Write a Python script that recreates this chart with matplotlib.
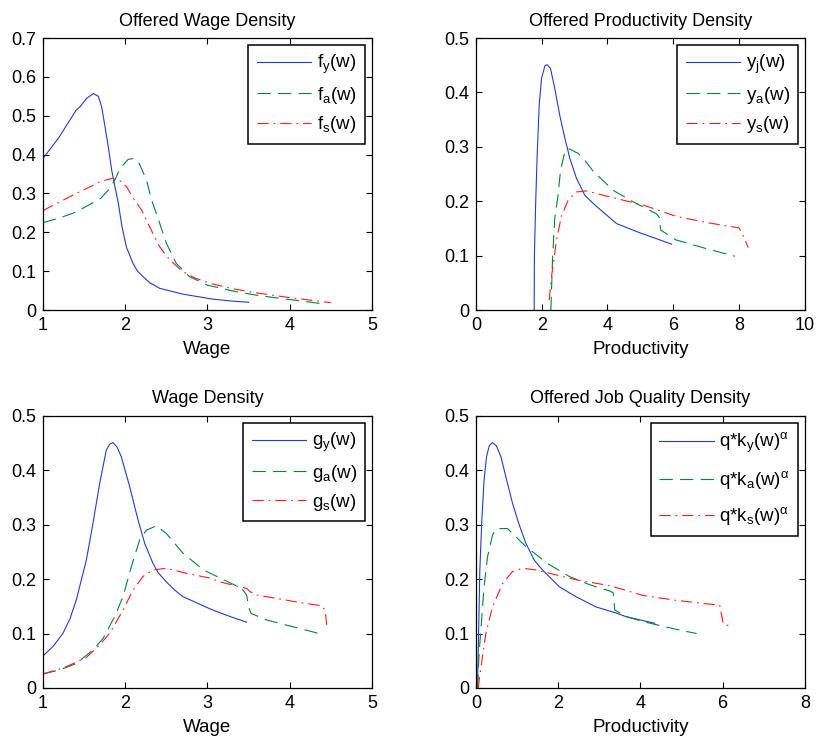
import matplotlib
matplotlib.use("Agg")
import matplotlib.pyplot as plt

plt.rcParams["font.family"] = "Liberation Sans"
plt.rcParams["mathtext.fontset"] = "custom"
plt.rcParams["mathtext.rm"] = "Liberation Sans"
plt.rcParams["mathtext.it"] = "Liberation Sans"
plt.rcParams["mathtext.bf"] = "Liberation Sans"
plt.rcParams["mathtext.sf"] = "Liberation Sans"

BLUE = "#1f3fc4"
GREEN = "#00853a"
RED = "#ff1a1a"

# ---- Offered Wage Density ----
fw_y_x = [1.0, 1.1, 1.2, 1.3, 1.405, 1.45, 1.531, 1.612, 1.673, 1.713, 1.754, 1.794,
          1.835, 1.875, 1.916, 1.96, 2.013, 2.094, 2.15, 2.216, 2.3, 2.418, 2.7, 3.067,
          3.3, 3.5]
fw_y = [0.39, 0.418, 0.446, 0.48, 0.515, 0.523, 0.545, 0.557, 0.55, 0.523, 0.472, 0.42,
        0.36, 0.317, 0.275, 0.215, 0.163, 0.12, 0.1, 0.086, 0.07, 0.056, 0.041, 0.028,
        0.023, 0.02]
fw_a_x = [1.0, 1.2, 1.4, 1.57, 1.7, 1.8, 1.875, 1.936, 2.037, 2.099, 2.16, 2.26, 2.32,
          2.378, 2.5, 2.62, 2.78, 3.0, 3.33, 3.6, 4.0, 4.37]
fw_a = [0.225, 0.237, 0.252, 0.272, 0.287, 0.31, 0.335, 0.364, 0.388, 0.39, 0.382, 0.334,
        0.283, 0.249, 0.172, 0.12, 0.086, 0.064, 0.048, 0.038, 0.027, 0.017]
fw_s_x = [1.0, 1.2, 1.45, 1.6, 1.693, 1.835, 1.93, 2.017, 2.1, 2.2, 2.297, 2.418, 2.54,
          2.7, 2.85, 3.067, 3.3, 3.6, 4.0, 4.5]
fw_s = [0.256, 0.278, 0.305, 0.32, 0.33, 0.339, 0.334, 0.317, 0.287, 0.257, 0.214, 0.163,
        0.129, 0.099, 0.082, 0.067, 0.055, 0.044, 0.032, 0.019]

# ---- Offered Productivity Density ----
py_j_x = [1.773, 1.78, 1.82, 1.864, 1.926, 1.997, 2.1, 2.17, 2.27, 2.4, 2.55, 2.705,
          2.857, 3.06, 3.313, 3.62, 4.276, 4.985, 5.5, 5.95]
py_j = [0.0, 0.1, 0.2, 0.285, 0.377, 0.426, 0.449, 0.451, 0.444, 0.407, 0.358, 0.316,
        0.279, 0.242, 0.211, 0.193, 0.159, 0.142, 0.131, 0.121]
py_a_x = [2.28, 2.33, 2.40, 2.5, 2.574, 2.705, 2.81, 3.11, 3.26, 3.57, 4.175, 4.78, 5.49,
          5.58, 5.62, 6.08, 7.0, 7.87]
py_a = [0.0, 0.092, 0.17, 0.211, 0.257, 0.291, 0.297, 0.288, 0.279, 0.255, 0.22, 0.199,
        0.177, 0.17, 0.147, 0.129, 0.113, 0.099]
py_s_x = [2.23, 2.3, 2.45, 2.6, 2.806, 3.06, 3.364, 3.87, 4.68, 5.09, 6.1, 7.1, 8.0, 8.1,
          8.28]
py_s = [0.018, 0.061, 0.128, 0.172, 0.202, 0.217, 0.219, 0.211, 0.199, 0.193, 0.172, 0.16,
        0.151, 0.14, 0.115]

# ---- Wage Density ----
gw_y_x = [1.0, 1.12, 1.243, 1.33, 1.405, 1.527, 1.608, 1.689, 1.77, 1.81, 1.851, 1.9,
          1.952, 2.054, 2.155, 2.236, 2.337, 2.4, 2.5, 2.6, 2.7, 3.067, 3.3, 3.476]
gw_y = [0.059, 0.076, 0.1005, 0.128, 0.162, 0.235, 0.303, 0.376, 0.4375, 0.448, 0.451,
        0.443, 0.425, 0.37, 0.309, 0.266, 0.229, 0.212, 0.195, 0.18, 0.168, 0.143, 0.13,
        0.121]
gw_a_x = [1.0, 1.2, 1.405, 1.608, 1.73, 1.871, 1.973, 2.074, 2.175, 2.256, 2.378, 2.5,
          2.7, 2.95, 3.416, 3.476, 3.5, 3.53, 3.72, 4.347]
gw_a = [0.0257, 0.033, 0.045, 0.07, 0.091, 0.131, 0.168, 0.223, 0.272, 0.29, 0.298, 0.284,
        0.248, 0.217, 0.183, 0.171, 0.149, 0.137, 0.125, 0.1005]
gw_s_x = [1.0, 1.25, 1.527, 1.689, 1.81, 1.973, 2.094, 2.216, 2.337, 2.5, 2.74, 3.03,
          3.15, 3.476, 3.517, 3.6, 4.125, 4.388, 4.43, 4.45, 4.51]
gw_s = [0.026, 0.037, 0.056, 0.079, 0.1005, 0.143, 0.18, 0.205, 0.217, 0.22, 0.211, 0.202,
        0.195, 0.183, 0.177, 0.171, 0.157, 0.151, 0.143, 0.116, 0.114]

# ---- Offered Job Quality Density ----
jq_y_x = [0.04, 0.065, 0.097, 0.146, 0.2, 0.26, 0.324, 0.405, 0.5, 0.61, 0.73, 0.89,
          1.054, 1.216, 1.42, 1.62, 2.03, 2.43, 2.92, 3.36, 3.66, 4.0, 4.35]
jq_y = [0.0, 0.094, 0.217, 0.309, 0.382, 0.425, 0.445, 0.451, 0.445, 0.425, 0.388, 0.34,
        0.30, 0.266, 0.235, 0.217, 0.186, 0.168, 0.149, 0.139, 0.131, 0.125, 0.119]
jq_a_x = [0.04, 0.08, 0.2, 0.284, 0.405, 0.5, 0.77, 0.93, 1.216, 1.74, 2.27, 2.76, 3.26,
          3.34, 3.38, 3.66, 4.07, 4.35, 4.8, 5.37]
jq_a = [0.0, 0.064, 0.186, 0.241, 0.281, 0.293, 0.293, 0.281, 0.26, 0.229, 0.205, 0.19,
        0.178, 0.175, 0.143, 0.131, 0.122, 0.117, 0.109, 0.1]
jq_s_x = [0.06, 0.08, 0.243, 0.405, 0.65, 0.89, 1.135, 1.46, 1.945, 2.43, 3.26, 4.07,
          4.88, 5.93, 6.02, 6.18]
jq_s = [0.0, 0.015, 0.10, 0.149, 0.192, 0.214, 0.22, 0.217, 0.208, 0.199, 0.188, 0.17,
        0.161, 0.152, 0.117, 0.114]

fig = plt.figure(figsize=(8.19, 7.40), dpi=100)

panels = [
    dict(rect=[0.0525, 0.581, 0.4017, 0.3676], title="Offered Wage Density", xlabel="Wage",
         xlim=(1, 5), xticks=[1, 2, 3, 4, 5], ylim=(0, 0.7),
         yticks=[0, 0.1, 0.2, 0.3, 0.4, 0.5, 0.6, 0.7], lspace=0.45,
         series=[(fw_y_x, fw_y, r"$\mathregular{f_y(w)}$"),
                 (fw_a_x, fw_a, r"$\mathregular{f_a(w)}$"),
                 (fw_s_x, fw_s, r"$\mathregular{f_s(w)}$")]),
    dict(rect=[0.581, 0.581, 0.4017, 0.3676], title="Offered Productivity Density",
         xlabel="Productivity", xlim=(0, 10), xticks=[0, 2, 4, 6, 8, 10], ylim=(0, 0.5),
         yticks=[0, 0.1, 0.2, 0.3, 0.4, 0.5], lspace=0.45,
         series=[(py_j_x, py_j, r"$\mathregular{y_j(w)}$"),
                 (py_a_x, py_a, r"$\mathregular{y_a(w)}$"),
                 (py_s_x, py_s, r"$\mathregular{y_s(w)}$")]),
    dict(rect=[0.0525, 0.0703, 0.4017, 0.3676], title="Wage Density", xlabel="Wage",
         xlim=(1, 5), xticks=[1, 2, 3, 4, 5], ylim=(0, 0.5),
         yticks=[0, 0.1, 0.2, 0.3, 0.4, 0.5], lspace=0.45,
         series=[(gw_y_x, gw_y, r"$\mathregular{g_y(w)}$"),
                 (gw_a_x, gw_a, r"$\mathregular{g_a(w)}$"),
                 (gw_s_x, gw_s, r"$\mathregular{g_s(w)}$")]),
    dict(rect=[0.581, 0.0703, 0.4017, 0.3676], title="Offered Job Quality Density",
         xlabel="Productivity", xlim=(0, 8), xticks=[0, 2, 4, 6, 8], ylim=(0, 0.5),
         yticks=[0, 0.1, 0.2, 0.3, 0.4, 0.5], lspace=0.75,
         series=[(jq_y_x, jq_y, r"$\mathregular{q{*}k_y(w)^{\alpha}}$"),
                 (jq_a_x, jq_a, r"$\mathregular{q{*}k_a(w)^{\alpha}}$"),
                 (jq_s_x, jq_s, r"$\mathregular{q{*}k_s(w)^{\alpha}}$")]),
]

styles = [dict(color=BLUE, linestyle="-"),
          dict(color=GREEN, linestyle=(0, (12, 6.5))),
          dict(color=RED, linestyle=(0, (10, 4.5, 1.5, 4.5)))]

for p in panels:
    ax = fig.add_axes(p["rect"])
    for (x, y, lab), st in zip(p["series"], styles):
        ax.plot(x, y, lw=0.8, label=lab, **st)
    ax.set_xlim(*p["xlim"])
    ax.set_ylim(*p["ylim"])
    ax.set_xticks(p["xticks"])
    ax.set_yticks(p["yticks"])
    ax.set_yticklabels([f"{v:g}" for v in p["yticks"]])
    ax.tick_params(direction="in", top=True, right=True, labelsize=13, length=4.5,
                   width=0.8, pad=5)
    for s in ax.spines.values():
        s.set_linewidth(0.9)
    ax.set_title(p["title"], fontsize=13, pad=9)
    ax.set_xlabel(p["xlabel"], fontsize=13.5, labelpad=5)
    leg = ax.legend(loc="upper right", fontsize=13.5, fancybox=False, framealpha=1,
                    edgecolor="black", handlelength=2.9, borderaxespad=0.35,
                    labelspacing=p["lspace"], handletextpad=0.3, borderpad=0.45)
    leg.get_frame().set_linewidth(1.1)

fig.savefig("out.png", dpi=100)
